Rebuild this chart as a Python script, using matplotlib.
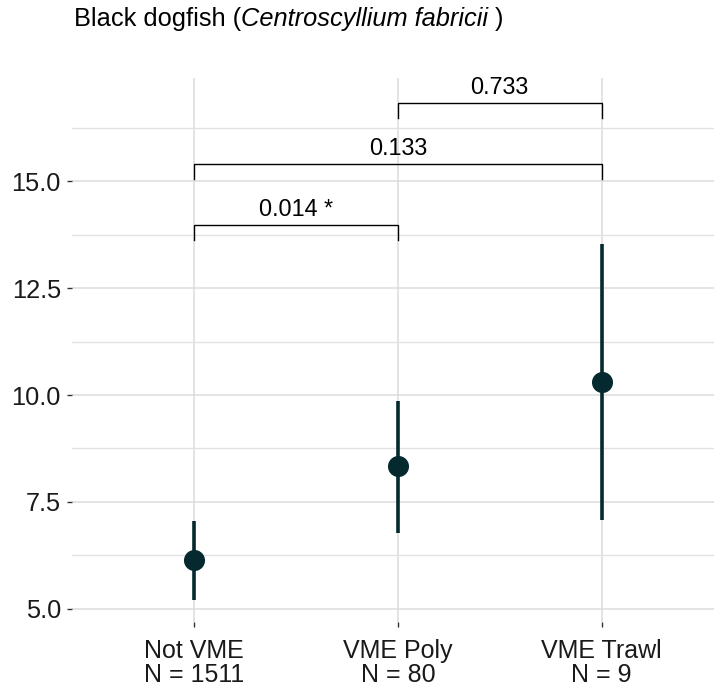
import matplotlib
matplotlib.use("Agg")
import matplotlib.pyplot as plt
from matplotlib.ticker import MultipleLocator

plt.rcParams['font.family'] = ['Liberation Sans', 'DejaVu Sans']

# Group summaries
groups = ["Not VME", "VME Poly", "VME Trawl"]
counts = [1511, 80, 9]
means = [6.15, 8.33, 10.30]
lower = [5.21, 6.78, 7.08]
upper = [7.06, 9.86, 13.53]

# Pairwise comparisons: (group a, group b, bracket height, label)
pair_a = [0, 0, 1]
pair_b = [1, 2, 2]
pair_y = [13.97, 15.40, 16.82]
pair_labels = ["0.014 *", "0.133", "0.733"]

W, H = 714, 689
fig = plt.figure(figsize=(W / 100, H / 100), dpi=100)
ax = fig.add_axes([72 / W, 1 - 622 / H, (714 - 72) / W, (622 - 78) / H])

x = [i + 1 for i in range(len(groups))]
mark_col = "#04292e"
ax.vlines(x, lower, upper, color=mark_col, lw=2.6, zorder=3)
ax.scatter(x, means, s=230, color=mark_col, zorder=4, linewidths=0)

tip = 0.35
for a, b, yb, lab in zip(pair_a, pair_b, pair_y, pair_labels):
    xa, xb = x[a], x[b]
    ax.plot([xa, xa, xb, xb], [yb - tip, yb, yb, yb - tip],
            color="black", lw=1.0, zorder=5, solid_joinstyle="miter")
    ax.text((xa + xb) / 2, yb + 0.09, lab, ha="center", va="bottom",
            fontsize=16.8, color="black", zorder=6)

ax.set_xlim(0.4, 3.552)
ax.set_ylim(4.696, 17.407)
ax.set_xticks(x)
ax.set_xticklabels([f"{g}\nN = {n}" for g, n in zip(groups, counts)],
                   fontsize=18, color="#1a1a1a", linespacing=1.03)
ax.yaxis.set_major_locator(MultipleLocator(2.5))
ax.yaxis.set_minor_locator(MultipleLocator(1.25))
ax.set_yticks([5.0, 7.5, 10.0, 12.5, 15.0])
ax.set_yticklabels(["5.0", "7.5", "10.0", "12.5", "15.0"], fontsize=18.3, color="#1a1a1a")

ax.grid(which="major", color="#dcdcdc", lw=1.1)
ax.grid(which="minor", axis="y", color="#e2e2e2", lw=1.0)
ax.set_axisbelow(True)
ax.tick_params(axis="both", which="major", length=3.5, width=1.0, color="#333333")
ax.tick_params(axis="y", which="minor", length=0)
ax.tick_params(axis="y", pad=4.5)
ax.tick_params(axis="x", pad=8.5)
for s in ax.spines.values():
    s.set_visible(False)

# Title with the species name in italics
fig.canvas.draw()
r = fig.canvas.get_renderer()
tx, ty = 74 / W, 1 - 26 / H
parts = [("Black dogfish (", "normal"), ("Centroscyllium fabricii", "italic"), (" )", "normal")]
for txt, style in parts:
    t = fig.text(tx, ty, txt, fontsize=18.3, style=style, va="baseline", ha="left", color="black")
    bb = t.get_window_extent(renderer=r)
    tx = bb.x1 / W

fig.savefig("out.png", dpi=100)
